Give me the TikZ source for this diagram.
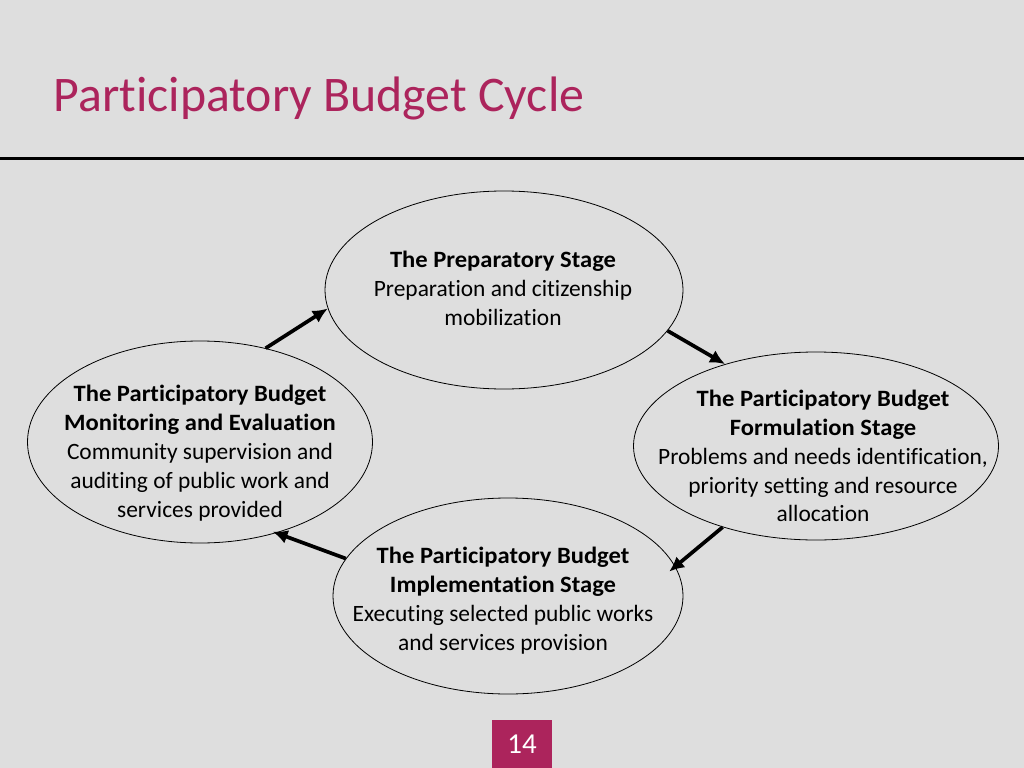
\documentclass[tikz,border=0pt]{standalone}
\usepackage{fontspec}
\setmainfont{Carlito}[Ligatures=NoCommon,BoldFeatures={FakeStretch=1.05}]
\newfontfamily\titlefont{Carlito}[Ligatures=NoCommon]
\usetikzlibrary{shapes.geometric,arrows.meta}
\definecolor{slidebg}{RGB}{222,222,222}
\definecolor{titlered}{RGB}{172,36,92}
\begin{document}
\begin{tikzpicture}[x=1bp,y=-1bp]
      \tikzstyle{every node}=[font=\fontsize{23.5}{29}\selectfont]
      \tikzstyle{stage}=[draw,ellipse,inner sep=0pt,line width=0.8bp]
      \tikzstyle{stagetext}=[align=center,inner sep=0pt]
      \tikzstyle{cycle}=[line width=3.7bp,-{Latex[length=15bp,width=14bp]}]
      %% background and title bar
      \fill[slidebg] (0,0) rectangle (1024,768);
      \useasboundingbox (0,0) rectangle (1024,768);
      \node (title) at (50,98) [anchor=west,text=titlered,font=\titlefont\fontsize{50}{60}\selectfont] {Participatory Budget Cycle};
      \draw[line width=3bp] (0,158) -- (1024,158);
      % top
      \node (prep) at (504,290) [stage,minimum width=358bp,minimum height=198bp] {};
      \node (preptext) at (503,288) [stagetext] {\textbf{The Preparatory Stage}\\Preparation and citizenship\\mobilization};
      % right
      \node (form) at (816,446) [stage,minimum width=365bp,minimum height=188bp] {};
      \node (formtext) at (823,456) [stagetext] {\textbf{The Participatory Budget}\\\textbf{Formulation Stage}\\Problems and needs identification,\\priority setting and resource\\allocation};
      % bottom
      \node (impl) at (508,596) [stage,minimum width=350bp,minimum height=196bp] {};
      \node (impltext) at (503,601) [stagetext] {\textbf{The Participatory Budget}\\\textbf{Implementation Stage}\\Executing selected public works\\and services provision};
      % left
      \node (moni) at (200,442) [stage,minimum width=345bp,minimum height=202bp] {};
      \node (monitext) at (200,453) [stagetext] {\textbf{The Participatory Budget}\\\textbf{Monitoring and Evaluation}\\Community supervision and\\auditing of public work and\\services provided};
      %% cycle arrows
      \draw[cycle] (moni.55) -- (prep.186);
      \draw[cycle] (prep.-14) -- (form.138);
      \draw[cycle,shorten >=-8bp] (form.221) -- (impl.10);
      \draw[cycle,shorten >=-4bp] (impl.167) -- (moni.-50);
      %% page number
      \node (page) at (522,744) [fill=titlered,text=white,minimum width=60bp,minimum height=48bp,font=\titlefont\fontsize{29}{34}\selectfont] {14};
\end{tikzpicture}
\end{document}
